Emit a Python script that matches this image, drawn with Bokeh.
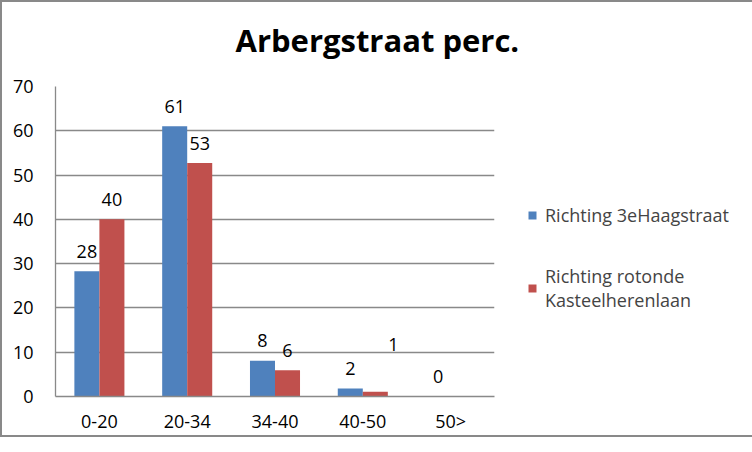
from bokeh.plotting import figure
from bokeh.models import Range1d, FactorRange, ColumnDataSource, Legend, LegendItem, FixedTicker, Title
from bokeh.transform import dodge
from bokeh.embed import file_html
from bokeh.resources import INLINE
from bokeh.core.properties import value

title_text = "Arbergstraat perc."
categories = ["0-20", "20-34", "34-40", "40-50", "50>"]
series_names = ["Richting 3eHaagstraat", "Richting rotonde\nKasteelherenlaan"]
blue_values = [28.3, 61.0, 8.1, 1.8, 0.0]
red_values = [40.0, 52.7, 5.9, 1.1, 0.0]
blue_labels = ["28", "61", "8", "2", "0"]
red_labels = ["40", "53", "6", "1", ""]
y_ticks = [0, 10, 20, 30, 40, 50, 60, 70]

# style: label nudges (pixels)
red_label_dx = [0, 0, 0, 18, 0]
red_label_dy = [-20, -20, -20, -47, -20]
blue_label_dy = [-20, -20, -20, -20, -20]

FONT = "Open Sans"
FS = "18px"
GRAY = "#898989"
BLUE = "#4F81BD"
RED = "#C0504D"

src = ColumnDataSource(dict(
    cat=categories, blue=blue_values, red=red_values,
    blue_lbl=blue_labels, red_lbl=red_labels,
    red_dx=red_label_dx, red_dy=red_label_dy, blue_dy=blue_label_dy,
))

p = figure(width=736, height=436, frame_width=439, frame_height=310,
           output_backend="svg", toolbar_location=None,
           x_range=FactorRange(*categories), y_range=Range1d(0, 70),
           min_border_left=53, min_border_right=0, min_border_top=0, min_border_bottom=0)
p.outline_line_color = None
p.background_fill_color = "white"
p.border_fill_color = "white"
p.styles = {"border": "2px solid #898989", "box-sizing": "border-box"}

p.title.text = title_text
p.title.align = "left"
p.title.offset = 180
p.title.standoff = 28
p.title.text_font = FONT
p.title.text_font_size = "31px"
p.title.text_font_style = "bold"
p.title.text_color = "black"

# empty spacer between title and plot area
p.add_layout(Title(text=" ", text_font_size="1px", standoff=9), "above")

bw = 0.285
rb = p.vbar(x=dodge("cat", -bw / 2, range=p.x_range), top="blue", width=bw, bottom=0,
            source=src, fill_color=BLUE, line_color=None)
rr = p.vbar(x=dodge("cat", bw / 2, range=p.x_range), top="red", width=bw, bottom=0,
            source=src, fill_color=RED, line_color=None)

p.text(x=dodge("cat", -bw / 2, range=p.x_range), y="blue", text="blue_lbl", source=src,
       text_align="center", text_baseline="middle", y_offset="blue_dy",
       text_font=value(FONT), text_font_size=FS, text_color="black")
p.text(x=dodge("cat", bw / 2, range=p.x_range), y="red", text="red_lbl", source=src,
       text_align="center", text_baseline="middle", x_offset="red_dx", y_offset="red_dy",
       text_font=value(FONT), text_font_size=FS, text_color="black")

# axes
p.yaxis.ticker = FixedTicker(ticks=y_ticks)
p.yaxis.major_tick_line_color = None
p.yaxis.minor_tick_line_color = None
p.yaxis.axis_line_color = GRAY
p.yaxis.axis_line_width = 1.3
p.yaxis.major_label_text_font = FONT
p.yaxis.major_label_text_font_size = FS
p.yaxis.major_label_text_color = "black"
p.yaxis.major_label_standoff = 16

p.xaxis.major_tick_line_color = None
p.xaxis.minor_tick_line_color = None
p.xaxis.axis_line_color = GRAY
p.xaxis.axis_line_width = 1.3
p.xaxis.major_label_text_font = FONT
p.xaxis.major_label_text_font_size = FS
p.xaxis.major_label_text_color = "black"
p.xaxis.major_label_standoff = 6

p.xgrid.grid_line_color = None
p.ygrid.grid_line_color = GRAY
p.ygrid.grid_line_width = 1.3

legend = Legend(items=[LegendItem(label=series_names[0], renderers=[rb]),
                       LegendItem(label=series_names[1], renderers=[rr])],
                location=(33, 84), margin=0, padding=0, spacing=37,
                glyph_width=10, glyph_height=10, label_standoff=8,
                label_text_font=FONT, label_text_font_size=FS,
                border_line_color=None, background_fill_alpha=0)
p.add_layout(legend, "right")

open("out.html", "w").write(file_html(p, INLINE))
